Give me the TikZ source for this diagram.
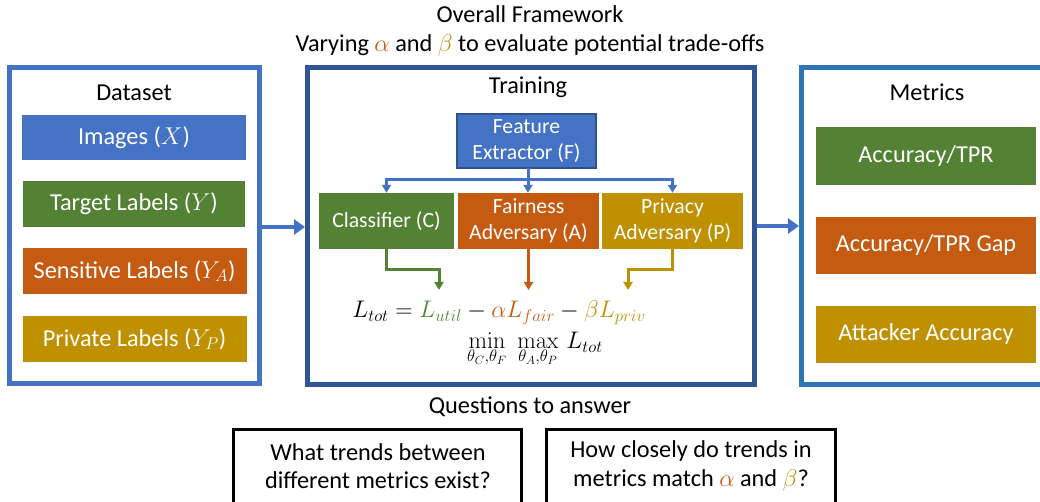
\RequirePackage{fix-cm}
\documentclass[tikz,border=0pt]{standalone}
\usepackage[no-math]{fontspec}
\setmainfont{Carlito}
\usetikzlibrary{arrows.meta}
\definecolor{cblue}{HTML}{4472C4}
\definecolor{cgreen}{HTML}{548235}
\definecolor{corange}{HTML}{C55A11}
\definecolor{cgold}{HTML}{BF9000}
\definecolor{cdark}{HTML}{2F5597}
\definecolor{cmet}{HTML}{2E75B6}
\definecolor{cfeb}{HTML}{2F528F}
\tikzset{
  big/.style={font=\fontsize{24.3}{28.2}\selectfont},
  mid/.style={font=\fontsize{21.7}{26}\selectfont},
  eqf/.style={font=\fontsize{24}{28}\selectfont},
  frame/.style={draw, line width=5pt, minimum width=#1, inner sep=0pt},
  cbox/.style={fill=#1, text=white, inner sep=0pt, align=center},
  qbox/.style={draw=black, line width=3pt, inner sep=0pt},
  bigarrow/.style={line width=4.5pt, cblue, -{Triangle[length=11pt,width=15pt]}},
  thinarrow/.style={line width=3pt, #1, -{Triangle[length=8pt,width=9pt]}},
}
\begin{document}
\begin{tikzpicture}[x=1pt,y=-1pt]
\useasboundingbox (0,0) rectangle (1040,502);
\clip (0,0) rectangle (1040,502);

% titles
\node[big] (t1) at (530,14) {Overall Framework};
\node[big] (t2) at (530,45) {Varying \textcolor{corange}{$\alpha$} and \textcolor{cgold}{$\beta$} to evaluate potential trade-offs};

% outer frames
\node[frame=250pt, draw=cblue, minimum height=316pt] (ds) at (134.5,225.5) {};
\node[frame=447pt, draw=cdark, minimum height=317pt] (tr) at (531,226) {};
\node[frame=243.5pt, draw=cmet, minimum height=317pt] (mt) at (923.25,226) {};

\node[big] (dsl) at (134,93) {Dataset};
\node[big] (trl) at (528,87) {Training};
\node[big] (mtl) at (927,92) {Metrics};

% dataset boxes
\node[big, cbox=cblue, minimum width=224pt, minimum height=45pt] (img) at (134,137.5) {Images ($X$)};
\node[big, cbox=cgreen, minimum width=222pt, minimum height=46pt] (tgt) at (134,204) {Target Labels ($Y$)};
\node[big, cbox=corange, minimum width=224pt, minimum height=46pt] (sen) at (134.5,271) {Sensitive Labels ($Y_A$)};
\node[big, cbox=cgold, minimum width=224pt, minimum height=46pt] (prv) at (134.5,339) {Private Labels ($Y_P$)};

% training boxes
\node[mid, cbox=cblue, draw=cfeb, line width=1.2pt, minimum width=139pt, minimum height=54pt, outer sep=0pt] (fe) at (526.5,141) {Feature\\Extractor (F)};
\node[mid, cbox=cgreen, minimum width=135pt, minimum height=56pt] (cls) at (386.5,221) {Classifier (C)};
\node[mid, cbox=corange, minimum width=141pt, minimum height=56pt] (fai) at (528.5,221) {Fairness\\Adversary (A)};
\node[mid, cbox=cgold, minimum width=141pt, minimum height=56pt] (pri) at (672.5,221) {Privacy\\Adversary (P)};

% metric boxes
\node[big, cbox=cgreen, minimum width=220pt, minimum height=58pt] (acc) at (926,156) {Accuracy/TPR};
\node[big, cbox=corange, minimum width=220pt, minimum height=57pt] (gap) at (926,245.5) {Accuracy/TPR Gap};
\node[big, cbox=cgold, minimum width=220pt, minimum height=57pt] (att) at (926,334.5) {Attacker Accuracy};

% equation
\node[eqf, inner sep=0pt] (eq) at (499,313) {$L_{tot} = \textcolor{cgreen}{L_{util}} - \textcolor{corange}{\alpha L_{fair}} - \textcolor{cgold}{\beta L_{priv}}$};
\node[eqf, inner sep=0pt] (mm) at (535,349) {$\displaystyle\min_{\theta_C,\theta_F}\;\max_{\theta_A,\theta_P}\, L_{tot}$};

% feature extractor arrows
\coordinate (hub) at (528,180);
\draw[line width=3pt, cblue] (fe.south -| hub) -- (hub);
\draw[thinarrow=cblue] (hub) -| (cls.north);
\draw[thinarrow=cblue] (hub) -| (pri.north);
\draw[thinarrow=cblue] (hub) -- (fai.north -| hub);

% arrows into the equation
\coordinate (cu) at (439,290);
\coordinate (cb) at (386.5,270);
\coordinate (fu) at (528.5,290);
\coordinate (pu) at (628,290);
\coordinate (pb) at (672.5,270);
\draw[thinarrow=cgreen] (cls.south) -- (cb) -| (cu);
\draw[thinarrow=corange] (fai.south) -- (fu);
\draw[thinarrow=cgold] (pri.south) -- (pb) -| (pu);

% big arrows
\draw[bigarrow] (ds.east |- 0,227) -- (tr.west |- 0,227);
\draw[bigarrow] (tr.east |- 0,226) -- (mt.west |- 0,226);

% questions
\node[big] (ql) at (530,407) {Questions to answer};
\node[qbox, minimum width=288pt, minimum height=100pt, anchor=north] (q1) at (377.5,427.5) {};
\node[qbox, minimum width=289pt, minimum height=100pt, anchor=north] (q2) at (691,427.5) {};
\node[big, align=center] (q1t) at (378,466) {What trends between\\different metrics exist?};
\node[big, align=center] (q2t) at (691,466) {How closely do trends in\\metrics match \textcolor{corange}{$\alpha$} and \textcolor{cgold}{$\beta$}?};
\end{tikzpicture}
\end{document}
